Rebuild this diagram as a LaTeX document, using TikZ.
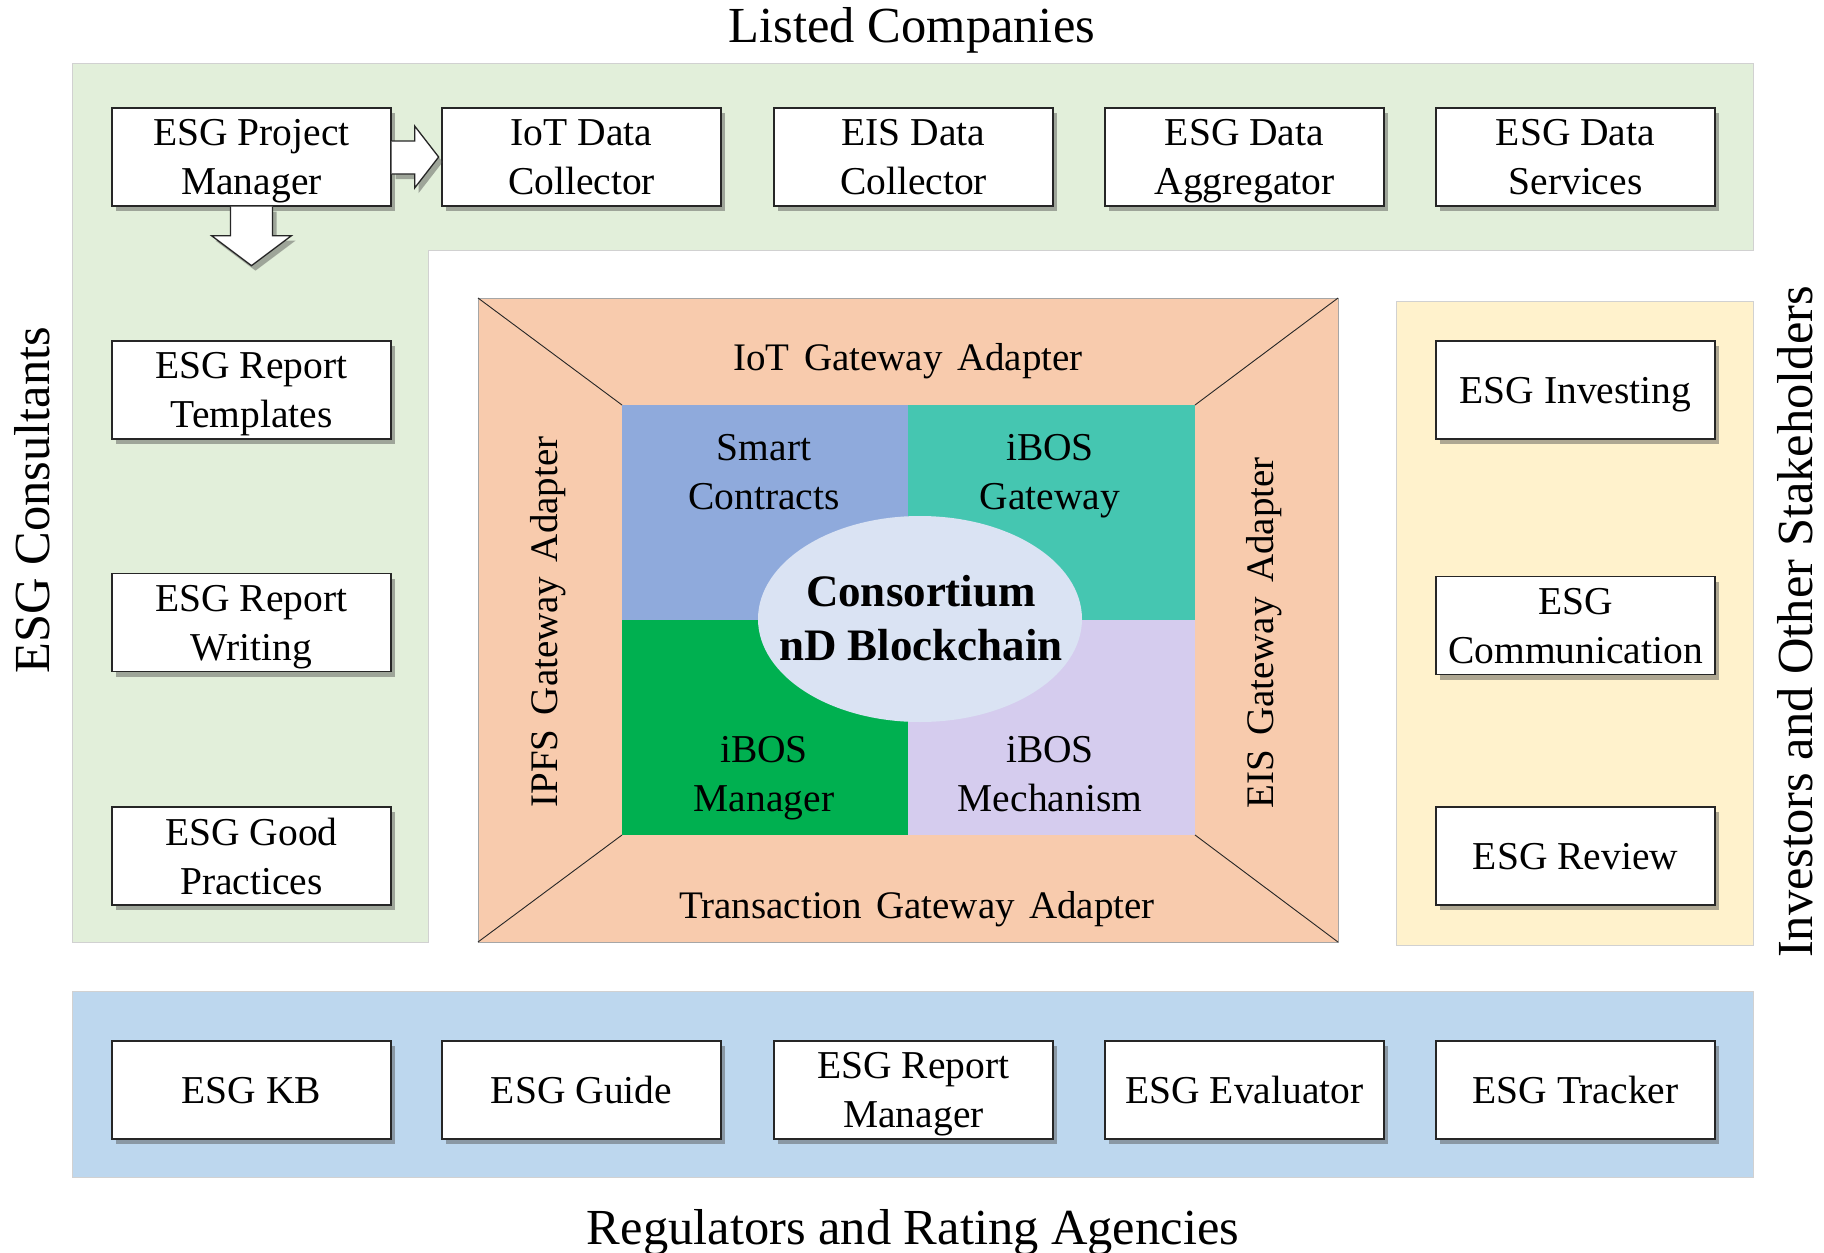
\documentclass[tikz,border=0pt]{standalone}
\usepackage{fontspec}
\setmainfont{Liberation Serif}
\usetikzlibrary{shadows,calc,shapes.geometric}
\definecolor{bgGreen}{HTML}{E2EFDA}
\definecolor{bgYellow}{HTML}{FFF2CC}
\definecolor{bgBlue}{HTML}{BDD7EE}
\definecolor{bgOrange}{HTML}{F8CBAD}
\definecolor{qBlue}{HTML}{8FAADC}
\definecolor{qTeal}{HTML}{45C6B1}
\definecolor{qGreen}{HTML}{00B050}
\definecolor{qLav}{HTML}{D5CCEE}
\definecolor{ellFill}{HTML}{DAE3F3}
\begin{document}
\begin{tikzpicture}[x=1pt,y=-1pt,
  box/.style={draw=black!85, line width=1.3pt, fill=white, minimum width=279pt,
    minimum height=98pt, inner sep=0pt, align=center, text depth=-5pt,
    font=\fontsize{39.5}{49}\selectfont,
    drop shadow={shadow xshift=4pt, shadow yshift=-5pt, opacity=0.45, fill=black!70}},
  blockarrow/.style={draw=black!85, line width=1.3pt, fill=white, line join=miter,
    drop shadow={shadow xshift=4pt, shadow yshift=-5pt, opacity=0.45, fill=black!70}},
  heading/.style={inner sep=0pt, font=\fontsize{50.5}{58}\selectfont},
  inlabel/.style={inner sep=0pt, font=\fontsize{39}{46}\selectfont},
  qlabel/.style={inner sep=0pt, align=center, text depth=0pt, font=\fontsize{39.5}{49}\selectfont},
  region/.style={draw=black!18, line width=0.8pt}
]
\useasboundingbox (0,0) rectangle (1824,1253);
\fill[white] (0,0) rectangle (1824,1253);

% background regions
\filldraw[region, fill=bgGreen] (72,63) -- (1753,63) -- (1753,250) -- (428,250) -- (428,942) -- (72,942) -- cycle;
\filldraw[region, fill=bgYellow] (1396,301) rectangle (1753,945);
\filldraw[region, fill=bgBlue] (72,991) rectangle (1753,1177);

% central block
\filldraw[fill=bgOrange, draw=black!35, line width=0.8pt] (478,298) rectangle (1338,942);
\fill[qBlue] (622,405) rectangle (908,620);
\fill[qTeal] (908,405) rectangle (1195,620);
\fill[qGreen] (622,620) rectangle (908,835);
\fill[qLav] (908,620) rectangle (1195,835);
\draw[black!85, line width=0.9pt] (478,298) -- (622,405);
\draw[black!85, line width=0.9pt] (1338,298) -- (1195,405);
\draw[black!85, line width=0.9pt] (478,942) -- (622,835);
\draw[black!85, line width=0.9pt] (1338,942) -- (1195,835);
\node[ellipse, fill=ellFill, minimum width=324pt, minimum height=206pt, inner sep=0pt] (core) at (920,619) {};
\node[align=center, inner sep=0pt, font=\fontsize{45}{54}\selectfont\bfseries] (coretext) at (921,618) {Consortium\\nD Blockchain};

\node[qlabel] (sc) at (764,472) {Smart\\Contracts};
\node[qlabel] (ig) at (1050,472) {iBOS\\Gateway};
\node[qlabel] (im) at (764,774) {iBOS\\Manager};
\node[qlabel] (imech) at (1050,774) {iBOS\\Mechanism};

\node[inlabel, anchor=base] (iotga) at (908,370) {IoT\hspace{0.12em} Gateway\hspace{0.12em} Adapter};
\node[inlabel, anchor=base] (txga) at (917,918) {Transaction\hspace{0.12em} Gateway\hspace{0.12em} Adapter};
\node[inlabel, anchor=base, rotate=90] (ipfsga) at (557,622) {IPFS\hspace{0.12em} Gateway\hspace{0.12em} Adapter};
\node[inlabel, anchor=base, rotate=90] (eisga) at (1273,633) {EIS\hspace{0.12em} Gateway\hspace{0.12em} Adapter};

% top row
\node[box] (pm) at (251.5,157) {ESG Project\\Manager};
\node[box] (iot) at (581.5,157) {IoT Data\\Collector};
\node[box] (eis) at (913.5,157) {EIS Data\\Collector};
\node[box] (agg) at (1244.5,157) {ESG Data\\Aggregator};
\node[box] (serv) at (1575.5,157) {ESG Data\\Services};

% left column
\node[box] (tmpl) at (251.5,390) {ESG Report\\Templates};
\node[box] (writ) at (251.5,622.5) {ESG Report\\Writing};
\node[box] (good) at (251.5,856) {ESG Good\\Practices};

% right column
\node[box] (inv) at (1575.5,390) {ESG Investing};
\node[box] (comm) at (1575.5,625.5) {ESG\\Communication};
\node[box] (rev) at (1575.5,856) {ESG Review};

% bottom row
\node[box] (kb) at (251.5,1090) {ESG KB};
\node[box] (guide) at (581.5,1090) {ESG Guide};
\node[box] (rman) at (913.5,1090) {ESG Report\\Manager};
\node[box] (eval) at (1244.5,1090) {ESG Evaluator};
\node[box] (track) at (1575.5,1090) {ESG Tracker};

% block arrows
\begin{scope}[shift={(pm.east)}]
  \draw[blockarrow] (0,-16) -- (23,-16) -- (23,-31) -- (47,0) -- (23,31) -- (23,17) -- (0,17);
\end{scope}
\begin{scope}[shift={(pm.south)}]
  \draw[blockarrow] (-21,0) -- (-21,29) -- (-40,29) -- (0,59) -- (40,29) -- (21,29) -- (21,0);
\end{scope}

% headings
\node[heading, anchor=base] (lc) at (912,42) {Listed Companies};
\node[heading, anchor=base] (reg) at (913,1244) {Regulators and Rating Agencies};
\node[heading, anchor=base, rotate=90] (cons) at (49,500) {ESG Consultants};
\node[heading, anchor=base, rotate=90] (invs) at (1812,622) {Investors and Other Stakeholders};
\end{tikzpicture}
\end{document}
